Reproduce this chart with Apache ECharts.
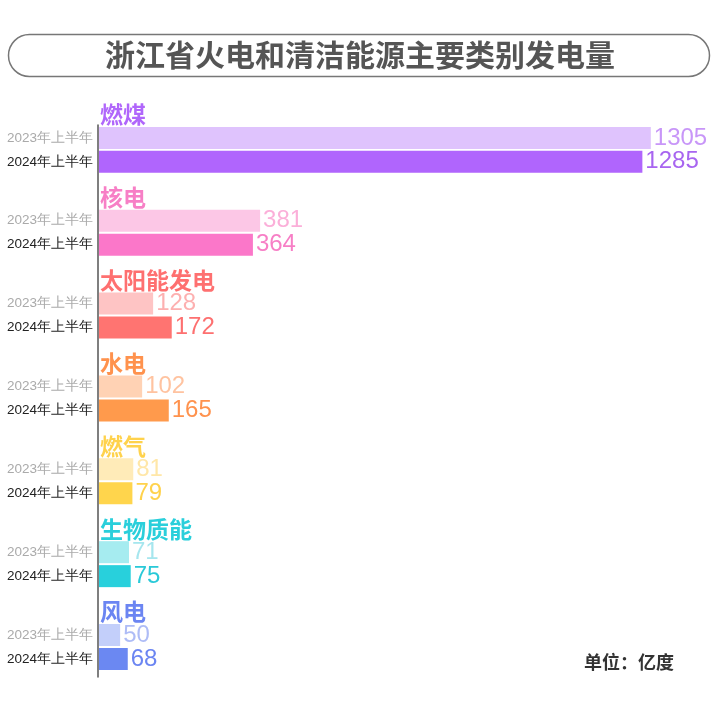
<!DOCTYPE html>
<html><head><meta charset="utf-8">
<script src="https://cdn.jsdelivr.net/npm/echarts@6/dist/echarts.min.js"></script>
<style>html,body{margin:0;padding:0;background:#fff}#c{width:720px;height:722px}</style>
</head><body><div id="c"></div>
<script>
const categories = ['燃煤','核电','太阳能发电','水电','燃气','生物质能','风电'];
const periodLabels = ['2023年上半年','2024年上半年'];
const values2023 = [1305, 381, 128, 102, 81, 71, 50];
const values2024 = [1285, 364, 172, 165, 79, 75, 68];
const titleColors = ['#b066fb','#f77fc6','#fe7070','#ff924d','#ffd24c','#2acfdb','#6b85f2'];
const bar2023Colors = ['#dfc3fd','#fcc7e6','#fec4c4','#ffd2b4','#ffebb8','#a6ecf0','#c3cffa'];
const bar2024Colors = ['#b065fd','#fb77c9','#ff7471','#ff9a4c','#ffd54c','#28d0dc','#6b88f2'];
const lbl2023Colors = ['#c896f8','#fbafd9','#fdb0b0','#ffc3a0','#ffe7a8','#a6e6ee','#aebcf6'];
const lbl2024Colors = ['#a865f0','#f77fc6','#fd7070','#ff924d','#ffd24c','#2ac9d8','#6b85f2'];

const chart = echarts.init(document.getElementById('c'), null, {renderer:'canvas'});
const sans = '"Noto Sans CJK SC", "Noto Sans", sans-serif';
const num = '"Liberation Sans", Arial, sans-serif';

const zeroTitle = categories.map((c,i)=>({value:0, label:{color:titleColors[i]}}));
const zeroL23 = categories.map(()=>0);
const zeroL24 = categories.map(()=>0);
const d23 = values2023.map((v,i)=>({value:v, itemStyle:{color:bar2023Colors[i]}, label:{color:lbl2023Colors[i]}}));
const d24 = values2024.map((v,i)=>({value:v, itemStyle:{color:bar2024Colors[i]}, label:{color:lbl2024Colors[i]}}));

chart.setOption({
  animation:false,
  title:[
    {text:'浙江省火电和清洁能源主要类别发电量', left:'center', top:35,
     textStyle:{fontFamily:sans, fontSize:30, fontWeight:'bold', color:'#555'}},
    {text:'单位：亿度', right:41, top:648,
     textStyle:{fontFamily:sans, fontSize:18, fontWeight:'bold', color:'#333'}}
  ],
  graphic:[{type:'rect', left:6, top:32, shape:{width:701, height:42, r:21},
    style:{fill:'none', stroke:'#777', lineWidth:1.5}, z:-1}],
  grid:[
    {left:99, right:29, top:97, bottom:45},
    {left:98, width:1, top:125, bottom:45}
  ],
  xAxis:[
    {type:'value', min:0, max:1400, show:false},
    {type:'value', gridIndex:1, show:false}
  ],
  yAxis:[
    {type:'category', data:categories, inverse:true, show:false},
    {type:'value', gridIndex:1, axisLine:{show:true, lineStyle:{color:'#555', width:1.5}},
     axisLabel:{show:false}, axisTick:{show:false}, splitLine:{show:false}}
  ],
  series:[
    {type:'bar', name:'title', stack:'t', barWidth:21, data:zeroTitle, silent:true,
     label:{show:true, position:'right', distance:1, formatter:p=>categories[p.dataIndex],
       fontFamily:sans, fontSize:23, fontWeight:'bold'}},
    {type:'bar', name:'l23', stack:'a', barWidth:22, barGap:'9%', data:zeroL23,
     label:{show:true, position:'left', distance:6, formatter:()=>periodLabels[0],
       fontFamily:num, fontSize:13.5, color:'#aaa'}},
    {type:'bar', name:'2023', stack:'a', barWidth:22, data:d23,
     label:{show:true, position:'right', distance:3, fontFamily:num, fontSize:24}},
    {type:'bar', name:'l24', stack:'b', barWidth:22, data:zeroL24,
     label:{show:true, position:'left', distance:6, formatter:()=>periodLabels[1],
       fontFamily:num, fontSize:13.5, color:'#222'}},
    {type:'bar', name:'2024', stack:'b', barWidth:22, barGap:'9%', data:d24,
     label:{show:true, position:'right', distance:3, fontFamily:num, fontSize:24}}
  ]
});
</script></body></html>
